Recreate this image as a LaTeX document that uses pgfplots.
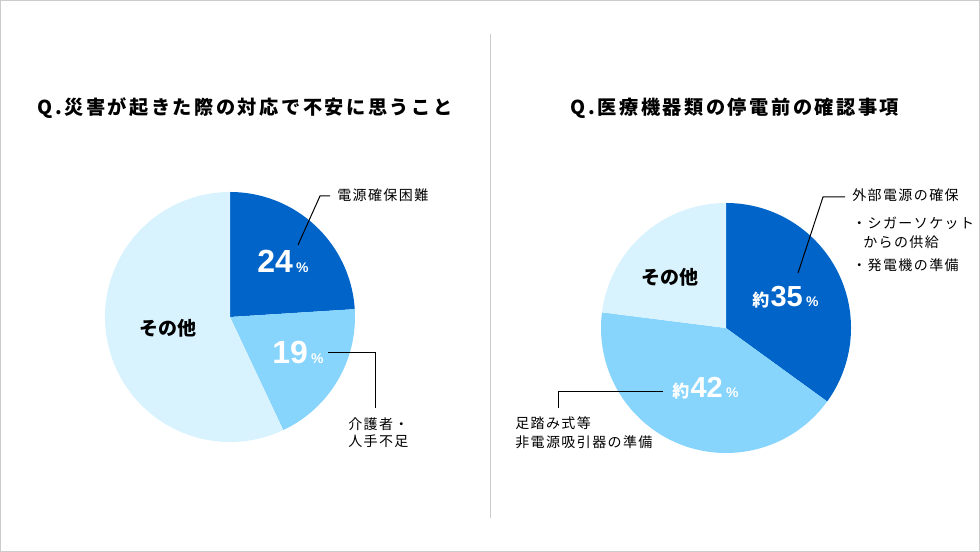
\documentclass[border=0pt]{standalone}
\usepackage{pgfplots}
\usepackage{pgfplotstable}
\pgfplotsset{compat=1.18}
\usepackage{fontspec}
\setmainfont{Noto Sans CJK JP}
\newfontfamily\titlefont[LetterSpace=13]{Noto Sans CJK JP}
\newfontfamily\labelfont[LetterSpace=10]{Noto Sans CJK JP}
\newfontfamily\numfont{Liberation Sans}

\definecolor{darkblue}{HTML}{0064C8}
\definecolor{midblue}{HTML}{87D4FD}
\definecolor{paleblue}{HTML}{D9F3FE}
\definecolor{framegray}{HTML}{CCCCCC}

% left: 災害が起きた際の対応で不安に思うこと
\pgfplotstableread{
item value
power 24
carer 19
other 57
}\leftdata
% right: 医療機器類の停電前の確認事項
\pgfplotstableread{
item value
external 35
footpump 42
other 23
}\rightdata

\newcommand\lbl[1]{{\labelfont\fontsize{10.5pt}{12pt}\selectfont #1}}

\begin{document}
\begin{tikzpicture}[x=0.75pt,y=0.75pt]
\path[use as bounding box] (0,0) rectangle (980,552);
\draw[framegray,line width=0.75pt] (0.5,0.5) rectangle (979.5,551.5);
\draw[framegray,line width=0.75pt] (490.5,518) -- (490.5,34);
\coordinate (LC) at (230,235);
\coordinate (RC) at (726,224);

% slice angles, clockwise from 12 o'clock
\pgfplotstablegetelem{0}{value}\of\leftdata
\pgfmathsetmacro\LA{90-3.6*\pgfplotsretval}
\pgfplotstablegetelem{1}{value}\of\leftdata
\pgfmathsetmacro\LB{\LA-3.6*\pgfplotsretval}
\pgfplotstablegetelem{0}{value}\of\rightdata
\pgfmathsetmacro\RA{90-3.6*\pgfplotsretval}
\pgfplotstablegetelem{1}{value}\of\rightdata
\pgfmathsetmacro\RB{\RA-3.6*\pgfplotsretval}
\pgfmathsetmacro\LAx{cos(\LA)}\pgfmathsetmacro\LAy{sin(\LA)}
\pgfmathsetmacro\LBx{cos(\LB)}\pgfmathsetmacro\LBy{sin(\LB)}
\pgfmathsetmacro\RAx{cos(\RA)}\pgfmathsetmacro\RAy{sin(\RA)}
\pgfmathsetmacro\RBx{cos(\RB)}\pgfmathsetmacro\RBy{sin(\RB)}

\begin{axis}[at={(LC)}, anchor=center, x=93.75pt, y=93.75pt,
  xmin=-1, xmax=1, ymin=-1, ymax=1, hide axis, clip=false]
\fill[darkblue] (axis cs:0,0) -- (axis cs:0,1)
  arc[start angle=90, end angle=\LA, radius=93.75pt] -- cycle;
\fill[midblue] (axis cs:0,0) -- (axis cs:\LAx,\LAy)
  arc[start angle=\LA, end angle=\LB, radius=93.75pt] -- cycle;
\fill[paleblue] (axis cs:0,0) -- (axis cs:\LBx,\LBy)
  arc[start angle=\LB, end angle=-270, radius=93.75pt] -- cycle;
\end{axis}

\begin{axis}[at={(RC)}, anchor=center, x=93.75pt, y=93.75pt,
  xmin=-1, xmax=1, ymin=-1, ymax=1, hide axis, clip=false]
\fill[darkblue] (axis cs:0,0) -- (axis cs:0,1)
  arc[start angle=90, end angle=\RA, radius=93.75pt] -- cycle;
\fill[midblue] (axis cs:0,0) -- (axis cs:\RAx,\RAy)
  arc[start angle=\RA, end angle=\RB, radius=93.75pt] -- cycle;
\fill[paleblue] (axis cs:0,0) -- (axis cs:\RBx,\RBy)
  arc[start angle=\RB, end angle=-270, radius=93.75pt] -- cycle;
\end{axis}

% titles
\node[inner sep=0] at (245,444) {\titlefont\bfseries\fontsize{14.4pt}{16pt}\selectfont Q.災害が起きた際の対応で不安に思うこと};
\node[inner sep=0] at (735,444) {\titlefont\bfseries\fontsize{14.4pt}{16pt}\selectfont Q.医療機器類の停電前の確認事項};

% left pie labels
\node[inner sep=0,anchor=base west,white] at (257,279)
  {\numfont\bfseries\fontsize{24pt}{26pt}\selectfont 24\kern2.5pt\fontsize{10.5pt}{12pt}\selectfont\%};
\node[inner sep=0,anchor=base west,white] at (272,188)
  {\numfont\bfseries\fontsize{24pt}{26pt}\selectfont 19\kern2.5pt\fontsize{10.5pt}{12pt}\selectfont\%};
\node[inner sep=0] at (168,224) {\bfseries\fontsize{14.25pt}{16pt}\selectfont その他};

\draw[black,line width=0.75pt] (298,307) -- (320,356) -- (330,356);
\node[inner sep=0,anchor=west] at (337,357) {\lbl{電源確保困難}};
\draw[black,line width=0.75pt] (328,199) -- (375,199) -- (375,144);
\node[inner sep=0,anchor=west] at (348,128) {\lbl{介護者・}};
\node[inner sep=0,anchor=west] at (348,111) {\lbl{人手不足}};

% right pie labels
\node[inner sep=0,anchor=base west,white] at (752,245)
  {\bfseries\fontsize{12.75pt}{14pt}\selectfont 約\kern1pt\numfont\bfseries\fontsize{21.75pt}{24pt}\selectfont 35\kern2.5pt\fontsize{10.5pt}{12pt}\selectfont\%};
\node[inner sep=0,anchor=base west,white] at (672,154)
  {\bfseries\fontsize{12.75pt}{14pt}\selectfont 約\kern1pt\numfont\bfseries\fontsize{21.75pt}{24pt}\selectfont 42\kern2.5pt\fontsize{10.5pt}{12pt}\selectfont\%};
\node[inner sep=0] at (670,275) {\bfseries\fontsize{14.25pt}{16pt}\selectfont その他};

\draw[black,line width=0.75pt] (798,279) -- (823,355) -- (845,355);
\node[inner sep=0,anchor=west] at (852,357) {\lbl{外部電源の確保}};
\node[inner sep=0,anchor=west] at (852,329) {\lbl{・シガーソケット}};
\node[inner sep=0,anchor=west] at (863,310) {\lbl{からの供給}};
\node[inner sep=0,anchor=west] at (852,287) {\lbl{・発電機の準備}};

\draw[black,line width=0.75pt] (663,160) -- (558,160) -- (558,144);
\node[inner sep=0,anchor=west] at (515,129) {\lbl{足踏み式等}};
\node[inner sep=0,anchor=west] at (515,110) {\lbl{非電源吸引器の準備}};
\end{tikzpicture}
\end{document}
